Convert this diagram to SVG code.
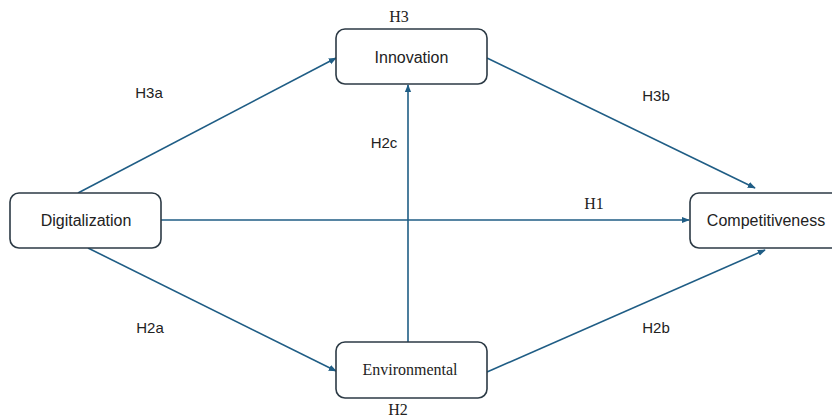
<svg xmlns="http://www.w3.org/2000/svg" width="832" height="419" viewBox="0 0 832 419">
<defs>
<marker id="ah" viewBox="0 0 10 10" refX="9" refY="5" markerWidth="5" markerHeight="5" orient="auto-start-reverse">
<path d="M0,1 L10,5 L0,9 z" fill="#1f5d85"/>
</marker>
<style>
.box{fill:#fff;stroke:#2c3a45;stroke-width:1.6}
.lab{font-family:"Liberation Sans",Arial,sans-serif;font-size:15px;fill:#222;text-anchor:middle}
.nl{font-family:"Liberation Sans",Arial,sans-serif;font-size:16px;fill:#222;text-anchor:middle}
.ser{font-family:"Liberation Serif","Times New Roman",serif;font-size:16px;fill:#222;text-anchor:middle}
.edge{stroke:#1f5d85;stroke-width:1.6;fill:none;marker-end:url(#ah)}
</style>
</defs>
<rect width="832" height="419" fill="#fff"/>
<g id="connectors">
<line class="edge" x1="78" y1="193" x2="336" y2="58"/>
<line class="edge" x1="161" y1="220" x2="689" y2="220"/>
<line class="edge" x1="88" y1="248" x2="336" y2="371"/>
<line class="edge" x1="487" y1="58" x2="755" y2="188"/>
<line class="edge" x1="408" y1="342" x2="408" y2="85"/>
<line class="edge" x1="487" y1="372" x2="765" y2="250"/>
</g>
<g id="labels">
<text class="lab" x="149" y="98">H3a</text>
<text class="lab" x="656" y="101">H3b</text>
<text class="lab" x="384" y="148">H2c</text>
<text class="ser" x="594" y="209">H1</text>
<text class="lab" x="150" y="333">H2a</text>
<text class="lab" x="656" y="333">H2b</text>
</g>
<g id="innovation">
<rect class="box" x="336" y="29" width="151" height="55" rx="9"/>
<text class="nl" x="411.5" y="63">Innovation</text>
<text class="ser" x="399" y="22">H3</text>
</g>
<g id="digitalization">
<rect class="box" x="10" y="193" width="151" height="55" rx="9"/>
<text class="nl" x="86" y="226">Digitalization</text>
</g>
<g id="competitiveness">
<rect class="box" x="690" y="193" width="150" height="55" rx="9"/>
<text class="nl" x="766" y="226">Competitiveness</text>
</g>
<g id="environmental">
<rect class="box" x="336" y="342" width="151" height="56" rx="9"/>
<text class="ser" x="410" y="375">Environmental</text>
<text class="ser" x="398" y="415">H2</text>
</g>
</svg>
